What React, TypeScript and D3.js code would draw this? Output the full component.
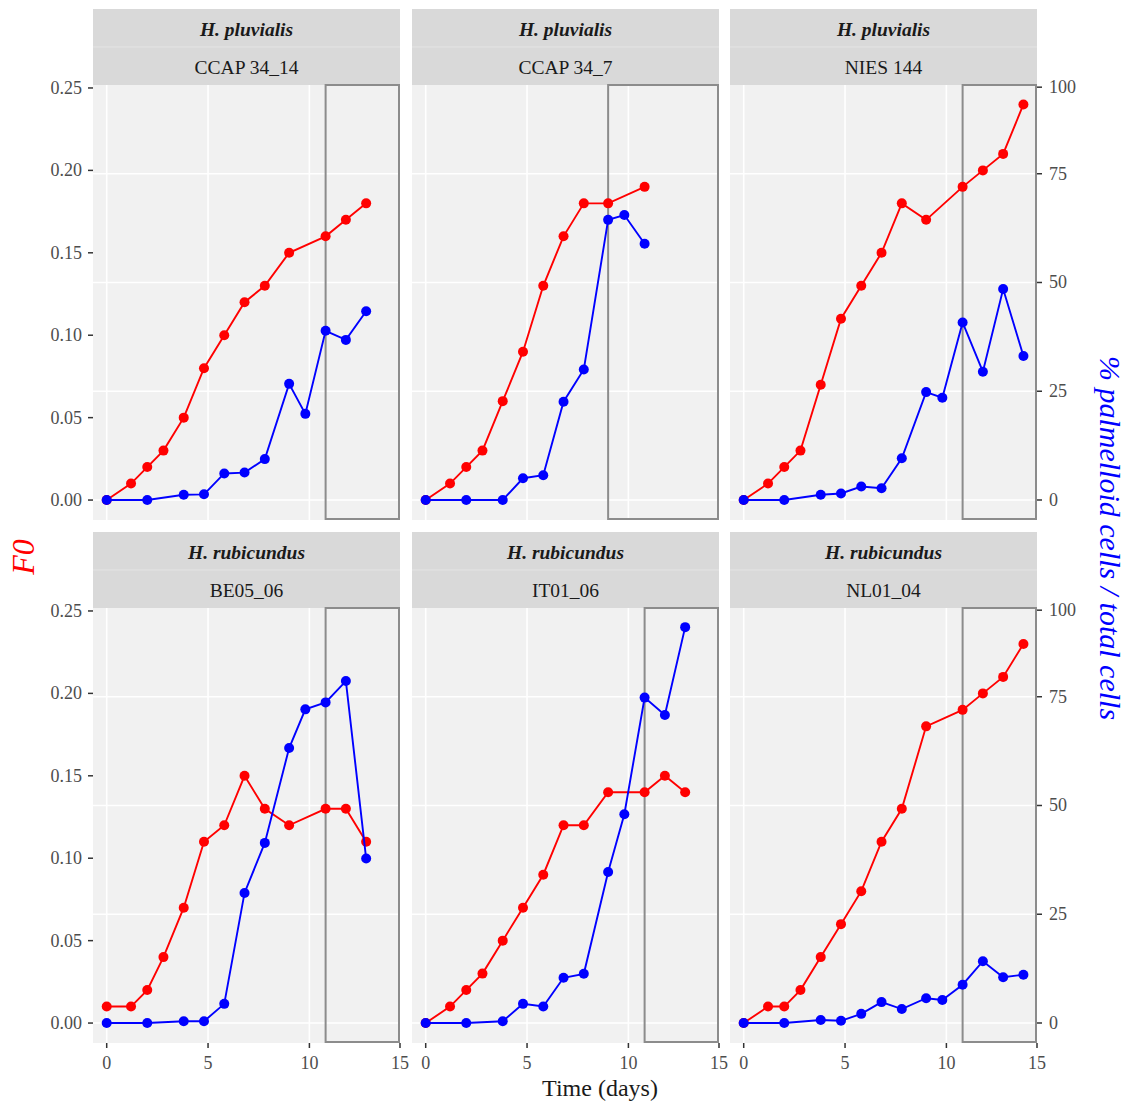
import React from "react";
import * as d3 from "d3";

// ---------- data ----------
const species = ["H. pluvialis", "H. pluvialis", "H. pluvialis", "H. rubicundus", "H. rubicundus", "H. rubicundus"];
const strains = ["CCAP 34_14", "CCAP 34_7", "NIES 144", "BE05_06", "IT01_06", "NL01_04"];

const redDays13 = [0, 1.2, 2, 2.8, 3.8, 4.8, 5.8, 6.8, 7.8, 9, 10.8, 11.8, 12.8];
const redDays14 = [0, 1.2, 2, 2.8, 3.8, 4.8, 5.8, 6.8, 7.8, 9, 10.8, 11.8, 12.8, 13.8];
const redDays11 = [0, 1.2, 2, 2.8, 3.8, 4.8, 5.8, 6.8, 7.8, 9, 10.8];
const blueDays12 = [0, 2, 3.8, 4.8, 5.8, 6.8, 7.8, 9, 9.8, 10.8, 11.8, 12.8];
const blueDays13 = [0, 2, 3.8, 4.8, 5.8, 6.8, 7.8, 9, 9.8, 10.8, 11.8, 12.8, 13.8];
const blueDays10 = [0, 2, 3.8, 4.8, 5.8, 6.8, 7.8, 9, 9.8, 10.8];

const f0CCAP3414 = [0, 0.01, 0.02, 0.03, 0.05, 0.08, 0.10, 0.12, 0.13, 0.15, 0.16, 0.17, 0.18];
const f0CCAP347 = [0, 0.01, 0.02, 0.03, 0.06, 0.09, 0.13, 0.16, 0.18, 0.18, 0.19];
const f0NIES144 = [0, 0.01, 0.02, 0.03, 0.07, 0.11, 0.13, 0.15, 0.18, 0.17, 0.19, 0.20, 0.21, 0.24];
const f0BE0506 = [0.01, 0.01, 0.02, 0.04, 0.07, 0.11, 0.12, 0.15, 0.13, 0.12, 0.13, 0.13, 0.11];
const f0IT0106 = [0, 0.01, 0.02, 0.03, 0.05, 0.07, 0.09, 0.12, 0.12, 0.14, 0.14, 0.15, 0.14];
const f0NL0104 = [0, 0.01, 0.01, 0.02, 0.04, 0.06, 0.08, 0.11, 0.13, 0.18, 0.19, 0.20, 0.21, 0.23];

const palmCCAP3414 = [0, 0, 1.2, 1.3, 6.1, 6.3, 9.4, 26.7, 19.8, 38.9, 36.8, 43.4];
const palmCCAP347 = [0, 0, 0, 5, 5.7, 22.6, 30, 64.4, 65.5, 58.9];
const palmNIES144 = [0, 0, 1.2, 1.5, 3.1, 2.7, 9.6, 24.8, 23.5, 40.8, 29.5, 48.5, 33.1];
const palmBE0506 = [0, 0, 0.4, 0.4, 4.4, 29.9, 41.4, 63.2, 72.1, 73.7, 78.6, 37.8];
const palmIT0106 = [0, 0, 0.4, 4.4, 3.8, 10.4, 11.3, 34.7, 48, 74.8, 70.8, 91];
const palmNL0104 = [0, 0, 0.7, 0.5, 2.1, 4.8, 3.2, 5.7, 5.3, 8.8, 14.2, 10.5, 11.1];

const redDays = [redDays13, redDays11, redDays14, redDays13, redDays13, redDays14];
const blueDays = [blueDays12, blueDays10, blueDays13, blueDays12, blueDays12, blueDays13];
const f0Series = [f0CCAP3414, f0CCAP347, f0NIES144, f0BE0506, f0IT0106, f0NL0104];
const palmSeries = [palmCCAP3414, palmCCAP347, palmNIES144, palmBE0506, palmIT0106, palmNL0104];
const boxStart = [10.8, 9, 10.8, 10.8, 10.8, 10.8];

const xTicks = [0, 5, 10, 15];
const f0Ticks = [0, 0.05, 0.1, 0.15, 0.2, 0.25];
const palmTicks = [0, 25, 50, 75, 100];

// ---------- layout ----------
const W = 1129;
const H = 1104;
const colLeft = [93, 412, 730];
const rowTop = [85, 608];
const PW = 307;
const PH = 435;
const STRIP = 76;
const serif = "'Liberation Serif', 'DejaVu Serif', serif";

const X_MIN = -0.676;
const X_MAX = 14.47;
const F0_MIN = -0.0121;
const F0_MAX = 0.2518;
const P_MIN = -4.6;
const P_MAX = 95.4;

function Panel({ i }: { i: number }) {
  const col = i % 3;
  const row = Math.floor(i / 3);
  const left = colLeft[col];
  const top = rowTop[row];
  const x = d3.scaleLinear().domain([X_MIN, X_MAX]).range([left, left + PW]);
  const yF = d3.scaleLinear().domain([F0_MIN, F0_MAX]).range([top + PH, top]);
  const yP = d3.scaleLinear().domain([P_MIN, P_MAX]).range([top + PH, top]);
  const clampX = (v: number) => x(Math.min(v, X_MAX));
  const clampP = (v: number) => yP(Math.min(v, P_MAX - 0.5));

  const redPts = redDays[i].map((d, k) => [x(d), yF(f0Series[i][k])] as [number, number]);
  const bluePts = blueDays[i].map((d, k) => [x(d), yP(palmSeries[i][k])] as [number, number]);
  const line = d3.line();

  const bx0 = x(boxStart[i]);
  const bx1 = x(X_MAX);
  const stripTop = top - STRIP;
  const half = STRIP / 2;

  return (
    <g>
      {/* strips */}
      <rect x={left} y={stripTop} width={PW} height={STRIP} fill="#d9d9d9" />
      <line x1={left} x2={left + PW} y1={stripTop + half} y2={stripTop + half} stroke="#e4e4e4" strokeWidth={1} />
      <text x={left + PW / 2} y={stripTop + half / 2 + 1} textAnchor="middle" dominantBaseline="central"
        fontFamily={serif} fontSize={19.5} fontWeight="bold" fontStyle="italic" fill="#1a1a1a">{species[i]}</text>
      <text x={left + PW / 2} y={stripTop + half * 1.5 + 1} textAnchor="middle" dominantBaseline="central"
        fontFamily={serif} fontSize={19.5} fill="#1a1a1a">{strains[i]}</text>

      {/* panel background + grid */}
      <rect x={left} y={top} width={PW} height={PH} fill="#f1f1f1" />
      {palmTicks.filter((t) => t < 100).map((t) => (
        <line key={"gh" + t} x1={left} x2={left + PW} y1={yP(t)} y2={yP(t)} stroke="#ffffff" strokeWidth={1.6} />
      ))}
      {xTicks.filter((t) => t < 15).map((t) => (
        <line key={"gv" + t} x1={x(t)} x2={x(t)} y1={top} y2={top + PH} stroke="#ffffff" strokeWidth={1.6} />
      ))}

      {/* highlighted box */}
      <rect x={bx0} y={top} width={bx1 - bx0 - 1} height={PH - 1} fill="none" stroke="#8c8c8c" strokeWidth={2} />

      {/* series */}
      <path d={line(redPts) || ""} fill="none" stroke="#ff0000" strokeWidth={1.9} />
      {redPts.map((p, k) => (
        <circle key={"r" + k} cx={p[0]} cy={p[1]} r={5} fill="#ff0000" />
      ))}
      <path d={line(bluePts) || ""} fill="none" stroke="#0000ff" strokeWidth={1.9} />
      {bluePts.map((p, k) => (
        <circle key={"b" + k} cx={p[0]} cy={p[1]} r={5} fill="#0000ff" />
      ))}

      {/* left axis */}
      {col === 0 &&
        f0Ticks.map((t) => (
          <g key={"lt" + t}>
            <line x1={left - 5} x2={left} y1={yF(t)} y2={yF(t)} stroke="#333" strokeWidth={1.5} />
            <text x={left - 11} y={yF(t)} textAnchor="end" dominantBaseline="central" fontFamily={serif} fontSize={18} fill="#4d4d4d">
              {t.toFixed(2)}
            </text>
          </g>
        ))}

      {/* right axis */}
      {col === 2 &&
        palmTicks.map((t) => (
          <g key={"rt" + t}>
            <line x1={left + PW} x2={left + PW + 5} y1={clampP(t)} y2={clampP(t)} stroke="#333" strokeWidth={1.5} />
            <text x={left + PW + 12} y={clampP(t)} textAnchor="start" dominantBaseline="central" fontFamily={serif} fontSize={18} fill="#4d4d4d">
              {t}
            </text>
          </g>
        ))}

      {/* bottom axis */}
      {row === 1 &&
        xTicks.map((t) => (
          <g key={"bt" + t}>
            <line x1={clampX(t)} x2={clampX(t)} y1={top + PH} y2={top + PH + 5} stroke="#333" strokeWidth={1.5} />
            <text x={clampX(t)} y={top + PH + 20} textAnchor="middle" dominantBaseline="central" fontFamily={serif} fontSize={18} fill="#4d4d4d">
              {t}
            </text>
          </g>
        ))}
    </g>
  );
}

export default function App() {
  return (
    <svg width={W} height={H} viewBox={`0 0 ${W} ${H}`}
      style={{ position: "absolute", left: 0, top: 0, background: "#ffffff" }}>
      <rect x={0} y={0} width={W} height={H} fill="#ffffff" />
      {strains.map((_, i) => (
        <Panel key={i} i={i} />
      ))}
      <text x={600} y={1088} textAnchor="middle" dominantBaseline="central" fontFamily={serif} fontSize={24} fill="#1a1a1a">
        Time (days)
      </text>
      <text transform="translate(23,557) rotate(-90)" textAnchor="middle" dominantBaseline="central"
        fontFamily={serif} fontSize={32} fontStyle="italic" fill="#ff0000">F0</text>
      <text transform="translate(1110,538) rotate(90)" textAnchor="middle" dominantBaseline="central"
        fontFamily={serif} fontSize={30} fontStyle="italic" fill="#0000ff">% palmelloid cells / total cells</text>
    </svg>
  );
}
